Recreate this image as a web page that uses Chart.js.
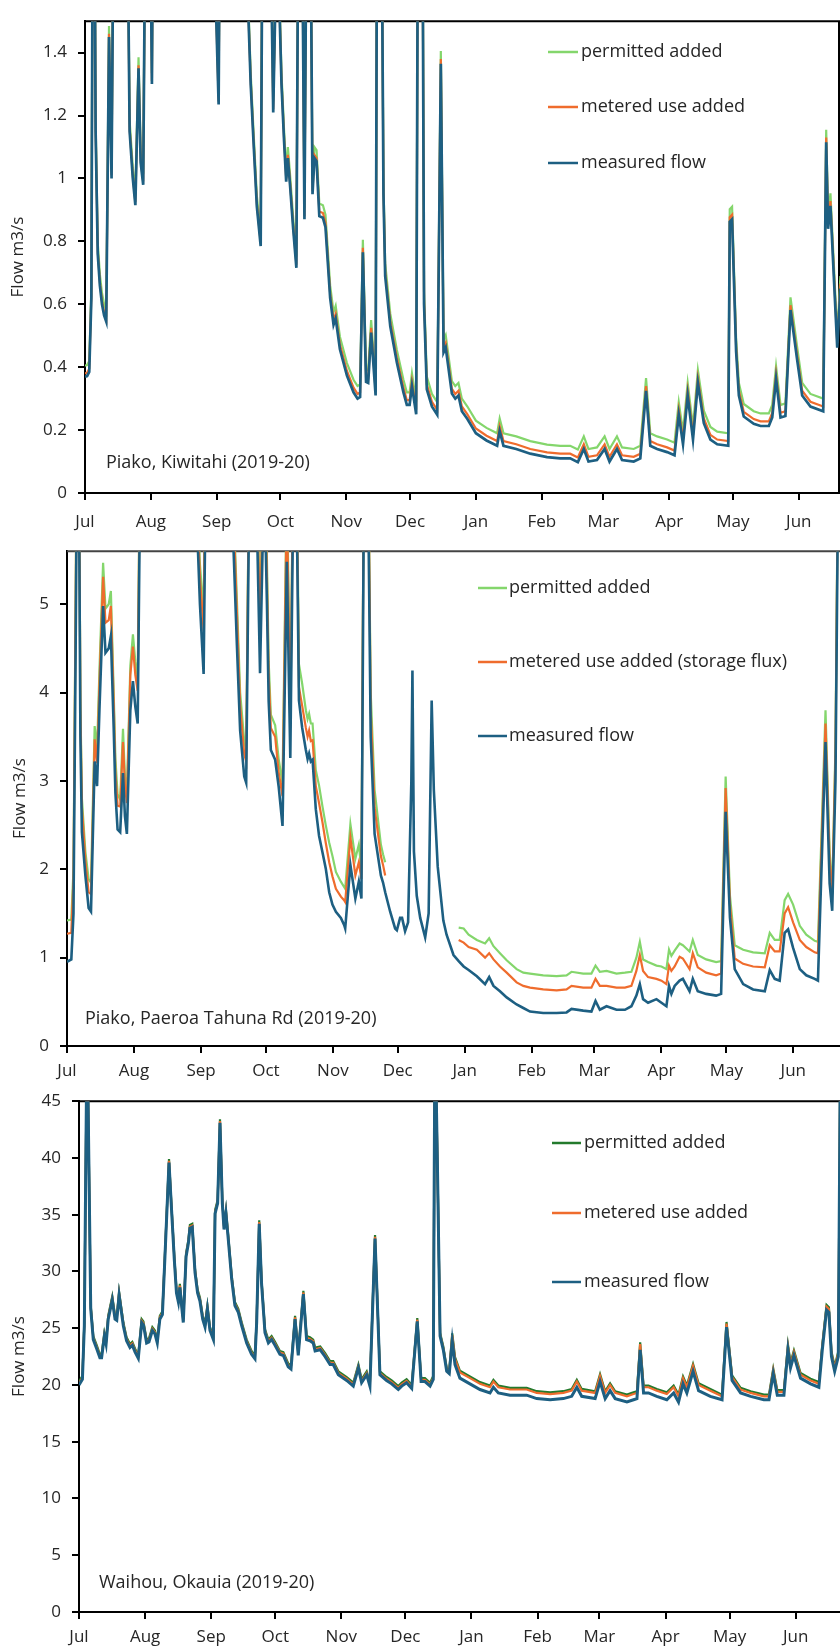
<!DOCTYPE html>
<html lang="en">
  <head>
    <meta charset="UTF-8" />
    <script src="https://cdn.jsdelivr.net/npm/chart.js@4.4.0/dist/chart.umd.min.js"></script>
    <title>Flow 2019-20</title>
    <style>
      body { margin: 0; background: #fff; width: 840px; height: 1647px; position: relative; overflow: hidden; }
      canvas { position: absolute; left: 0; }
    </style>
  </head>
  <body>
    <canvas id="c1" width="840" height="540" style="top:0"></canvas>
    <canvas id="c2" width="840" height="560" style="top:530px"></canvas>
    <canvas id="c3" width="840" height="567" style="top:1080px"></canvas>

    <script>
      // day 0 = 1 Jul 2019
      var monthStarts = [0, 31, 62, 92, 123, 153, 184, 215, 244, 275, 305, 336];
      var monthLabels = ["Jul", "Aug", "Sep", "Oct", "Nov", "Dec", "Jan", "Feb", "Mar", "Apr", "May", "Jun"];
      var seriesNames = ["measured flow", "metered use added", "permitted added"];

      // Piako, Kiwitahi
      var days1 = [0,1,2,3,4,5,6,7,8,9,
        10,11.3,12.5,13.8,16,19.5,21,22.5,23.7,25.2,
        26.2,27.4,29,30.5,31.5,32.3,40,50,60,61,
        62.9,63.6,70,76.5,78,79.3,80.9,82.7,83.8,86.5,
        88.6,90.3,91.3,92.5,93.7,94.7,95.5,96.5,98,99.5,
        100.5,101.8,103.3,104.8,106,107.1,108,109,110.3,112,
        113.2,115.4,117,118,120,123.3,126.4,128.3,129.5,130.8,
        132.3,133.3,134.7,136.8,137.5,139.5,140.5,141.3,143.7,146.8,
        149.9,151.5,152.8,153.9,155.9,157,158.5,159.6,160.9,163.3,
        165.8,167.5,168.8,169.8,172.7,174.3,175.8,177.4,180,184,
        189,194,195.2,197,203,209.6,217.5,223.7,228.4,232,
        234.8,237,241,244.6,246.9,250.4,252.8,258.3,261.4,264.1,
        266.1,269.3,274,277.5,279.5,281.5,283.7,286.2,288.5,291.3,
        294.4,297.6,302.8,303.5,304.6,306.5,307.8,310.1,314.8,318,
        321.9,323.5,325.3,327.4,329.7,332.1,335.2,337.6,341.5,347.5,
        348.9,349.8,350.9,354.1,355.6,357];
      var measured1 = [0.37,0.372,0.385,0.62,2.6,1.15,0.76,0.66,0.6,0.565,
        0.545,1.45,1.0,2.2,3.5,2.2,1.15,1.0,0.915,1.35,
        1.05,0.98,2.4,2.0,1.3,2.2,4.0,3.5,2.4,1.7,
        1.235,2.0,3.5,1.6,1.3,1.12,0.91,0.785,2.2,2.2,
        1.21,1.8,1.6,1.3,1.12,0.99,1.065,0.98,0.84,0.716,
        2.0,2.2,0.87,2.4,2.0,0.95,1.065,1.055,0.88,0.875,
        0.845,0.62,0.535,0.555,0.457,0.373,0.32,0.30,0.305,0.765,
        0.353,0.35,0.51,0.31,2.0,2.0,0.95,0.69,0.53,0.415,
        0.32,0.28,0.28,0.34,0.25,2.5,2.5,0.6,0.33,0.275,
        0.249,1.365,0.447,0.462,0.316,0.30,0.31,0.26,0.235,0.19,
        0.167,0.15,0.197,0.15,0.14,0.125,0.114,0.11,0.11,0.098,
        0.14,0.10,0.105,0.14,0.10,0.14,0.105,0.10,0.11,0.325,
        0.15,0.14,0.13,0.12,0.249,0.155,0.31,0.17,0.35,0.222,
        0.17,0.155,0.15,0.862,0.87,0.45,0.31,0.243,0.22,0.213,
        0.213,0.24,0.363,0.24,0.245,0.582,0.425,0.31,0.275,0.26,
        1.115,0.84,0.913,0.462,0.65,0.8];
      var metered1 = [0.38,0.382,0.395,0.63,2.61,1.16,0.77,0.67,0.61,0.575,
        0.555,1.46,1.01,2.21,3.51,2.21,1.16,1.01,0.925,1.36,
        1.06,0.99,2.41,2.01,1.31,2.21,4.01,3.51,2.41,1.71,
        1.245,2.01,3.51,1.61,1.31,1.13,0.92,0.795,2.21,2.21,
        1.22,1.81,1.61,1.31,1.13,1.0,1.075,0.99,0.85,0.726,
        2.01,2.21,0.88,2.41,2.01,0.96,1.075,1.065,0.895,0.89,
        0.86,0.635,0.55,0.57,0.472,0.388,0.335,0.315,0.32,0.78,
        0.368,0.365,0.525,0.325,2.01,2.01,0.965,0.705,0.545,0.43,
        0.335,0.295,0.295,0.355,0.265,2.51,2.51,0.615,0.345,0.29,
        0.264,1.38,0.462,0.477,0.331,0.315,0.325,0.275,0.25,0.205,
        0.182,0.165,0.212,0.165,0.155,0.14,0.129,0.125,0.125,0.113,
        0.155,0.115,0.12,0.155,0.115,0.155,0.12,0.115,0.125,0.34,
        0.165,0.155,0.145,0.135,0.264,0.17,0.325,0.185,0.365,0.237,
        0.185,0.17,0.165,0.877,0.885,0.465,0.325,0.258,0.235,0.228,
        0.228,0.255,0.378,0.255,0.26,0.597,0.44,0.325,0.29,0.275,
        1.13,0.855,0.928,0.477,0.665,0.815];
      var permitted1 = [0.405,0.407,0.42,0.655,2.635,1.185,0.795,0.695,0.635,0.6,
        0.58,1.485,1.035,2.235,3.535,2.235,1.185,1.035,0.95,1.385,
        1.085,1.015,2.435,2.035,1.335,2.235,4.035,3.535,2.435,1.735,
        1.27,2.035,3.535,1.635,1.335,1.155,0.945,0.82,2.235,2.235,
        1.245,1.835,1.635,1.335,1.155,1.025,1.1,1.015,0.875,0.751,
        2.035,2.235,0.905,2.435,2.035,0.985,1.1,1.09,0.92,0.915,
        0.885,0.66,0.575,0.595,0.497,0.413,0.36,0.34,0.345,0.805,
        0.393,0.39,0.55,0.35,2.04,2.04,0.99,0.73,0.57,0.455,
        0.36,0.32,0.32,0.38,0.29,2.54,2.54,0.64,0.37,0.315,
        0.289,1.405,0.487,0.502,0.356,0.34,0.35,0.3,0.275,0.23,
        0.207,0.19,0.237,0.19,0.18,0.165,0.154,0.15,0.15,0.138,
        0.18,0.14,0.145,0.18,0.14,0.18,0.145,0.14,0.15,0.365,
        0.19,0.18,0.17,0.16,0.289,0.195,0.35,0.21,0.39,0.262,
        0.21,0.195,0.19,0.902,0.91,0.49,0.35,0.283,0.26,0.253,
        0.253,0.28,0.403,0.28,0.285,0.622,0.465,0.35,0.315,0.3,
        1.155,0.88,0.953,0.502,0.69,0.84];

      // Piako, Paeroa Tahuna Rd
      var days2 = [0,2,3,4,4.6,5.5,6.2,6.9,8.5,10,
        11.1,12.8,13.9,15,16.7,17.8,19.3,20.3,21.6,22.4,
        23.4,24.6,25.9,26.8,27.7,29.3,30.5,31.6,32.7,33.9,
        40,50,60,61.5,63.2,64.2,70,76.5,78.6,80.1,
        82,82.9,84.4,87.8,89.3,91.2,92.5,93.3,94.3,96.3,
        97.9,99.7,101.7,103.3,104.8,106.3,107.3,108.8,110.5,111.3,
        112,112.8,113.6,115.1,116.6,118.2,119.7,121.3,122.8,124.4,
        126.7,128.2,128.7,131.1,133.4,135,136.2,137.4,139.2,140.5,
        142.3,145.2,146.2,147.2,149.5,151.8,152.6,154.1,155,156.4,
        157.8,159.3,159.8,160.5,161.8,163.4,165.7,167.3,168.7,169.7,
        171.5,174.1,175.6,178.8,181.2,183.5,185.8,189.6,193.4,195.3,
        197.3,200.3,203.4,208,211.1,214.2,220.3,226.5,231.1,233.4,
        238.8,242.6,244.5,246.5,249.6,254.2,258.1,261.1,263.4,265,
        266.5,268.8,272.7,275,277.3,278.5,279.6,281.1,283.4,284.9,
        288,289.5,291.8,295.7,300.3,302.6,304.7,306.7,308.9,312.8,
        317.4,322.8,325.1,327.4,329.7,332,333.6,335.9,339,342,
        345.9,347.4,350.9,352.8,354,355.5,356.6,358];
      var measured2 = [0.953,0.98,1.5,4.5,6.5,6.5,3.5,2.42,1.93,1.56,
        1.52,3.22,2.94,3.8,4.98,4.45,4.5,4.64,3.6,2.86,
        2.45,2.42,3.09,2.6,2.4,3.8,4.13,3.84,3.65,6.5,
        8,7,6,5,4.21,6.5,8,6,4.54,3.57,
        3.05,2.98,6.5,6,4.22,6.5,5,3.9,3.35,3.24,
        2.94,2.49,5.48,3.26,6.5,6,3.91,3.6,3.35,3.25,
        3.31,3.22,3.24,2.68,2.38,2.19,2.01,1.74,1.6,1.52,
        1.45,1.37,1.33,2.05,1.67,1.86,1.67,6.5,6.5,3.5,
        2.4,1.93,1.85,1.74,1.52,1.33,1.31,1.45,1.45,1.3,
        1.4,3.0,4.25,2.2,1.7,1.45,1.23,1.5,3.91,2.9,
        2.03,1.42,1.26,1.03,0.96,0.9,0.86,0.79,0.7,0.78,
        0.68,0.62,0.55,0.47,0.43,0.39,0.373,0.373,0.38,0.42,
        0.4,0.39,0.51,0.41,0.45,0.41,0.41,0.45,0.57,0.7,
        0.53,0.49,0.53,0.49,0.45,0.68,0.59,0.68,0.74,0.76,
        0.62,0.76,0.62,0.59,0.57,0.59,2.65,1.45,0.87,0.7,
        0.64,0.62,0.86,0.76,0.74,1.28,1.32,1.11,0.87,0.8,
        0.76,0.74,3.44,1.84,1.53,3,6,7];
      var metered2 = [1.27,1.28,1.9,5.0,7,7,3.8,2.7,2.1,1.74,
        1.72,3.47,3.2,4.1,5.31,4.79,4.82,4.98,3.9,3.1,
        2.72,2.71,3.44,2.95,2.75,4.2,4.52,4.2,4.02,7,
        8.5,7.5,6.3,5.3,4.7,7,8.5,6.4,4.9,3.85,
        3.3,3.22,7,6.4,4.7,7,5.3,4.2,3.6,3.5,
        3.1,2.83,6.2,3.6,7,6.3,4.06,3.85,3.6,3.5,
        3.57,3.45,3.46,2.94,2.75,2.53,2.3,2.08,1.92,1.78,
        1.69,1.65,1.63,2.36,1.93,2.08,1.89,7,7,3.8,
        2.7,2.15,2.05,1.93,null,null,null,null,null,null,
        null,null,null,null,null,null,null,null,null,null,
        null,null,null,null,1.2,1.17,1.12,1.09,1.0,1.05,
        0.98,0.9,0.83,0.72,0.68,0.66,0.64,0.63,0.64,0.68,
        0.66,0.66,0.76,0.68,0.68,0.66,0.66,0.68,0.85,1.03,
        0.85,0.78,0.76,0.74,0.7,0.91,0.85,0.9,1.01,0.99,
        0.87,1.05,0.89,0.83,0.8,0.82,2.92,1.6,0.99,0.93,
        0.9,0.89,1.14,1.07,1.07,1.5,1.57,1.4,1.2,1.12,
        1.06,1.05,3.65,2.1,1.72,3.3,6.3,7.3];
      var permitted2 = [1.42,1.43,2.0,5.1,7,7,3.9,2.8,2.2,1.89,
        1.85,3.62,3.35,4.25,5.47,4.95,5.0,5.15,4.0,3.25,
        2.85,2.79,3.59,3.05,2.85,4.3,4.66,4.35,4.15,7,
        8.5,7.5,6.4,5.45,4.9,7,8.5,6.5,5.05,4.0,
        3.45,3.35,7,6.5,4.9,7,5.5,4.35,3.75,3.63,
        3.25,2.97,6.4,3.8,7,6.5,4.32,4.1,3.8,3.7,
        3.76,3.65,3.65,3.12,2.95,2.71,2.5,2.3,2.15,1.97,
        1.86,1.8,1.78,2.51,2.12,2.28,2.0,7,7,4.0,
        2.9,2.28,2.17,2.08,null,null,null,null,null,null,
        null,null,null,null,null,null,null,null,null,null,
        null,null,null,null,1.34,1.33,1.26,1.2,1.16,1.22,
        1.13,1.05,0.97,0.87,0.83,0.82,0.8,0.79,0.8,0.84,
        0.82,0.82,0.91,0.84,0.85,0.82,0.83,0.84,1.0,1.18,
        0.98,0.95,0.91,0.9,0.87,1.09,1.02,1.08,1.16,1.14,
        1.07,1.2,1.03,0.98,0.95,0.96,3.05,1.7,1.14,1.09,
        1.06,1.05,1.28,1.2,1.2,1.65,1.72,1.6,1.36,1.26,
        1.19,1.18,3.8,2.2,1.74,3.4,6.4,7.4];

      // Waihou, Okauia
      var days3 = [0,1.6,2.5,3.8,4.6,5.5,6.7,8.3,9.8,10.6,
        11.9,12.7,13.7,15.6,16.9,17.7,18.8,20.8,22.3,23.9,
        25,26.3,27.8,29.4,30.2,31.7,32.8,34.4,35.6,36.7,
        37.9,39.1,40.3,42.2,43.4,44.7,45.7,46.6,47.3,48.1,
        48.9,50.2,51.3,52,53.1,54.4,55.6,56.7,58,59.1,
        60.2,61.4,63,63.8,65,66.1,67.2,68,68.9,70,
        71.6,73.1,74.7,76.3,78.6,80.9,82.5,83.3,84.5,85.6,
        87.2,88.8,90.3,91.9,94.2,95.8,98.1,99.4,101.3,102.8,
        105.2,106.7,108.3,109.8,110.7,113.1,115.4,117.7,119.2,121.6,
        125.5,128.6,131,132.5,134.9,136.4,138.8,141.1,144.2,146.6,
        149.7,151.3,153.6,156,158.6,160.4,162.2,164.6,166.1,166.9,
        168,169.3,170.8,172.4,173.6,175,176.3,178.6,183.3,188,
        192.7,194.3,196.6,202.1,209.9,214.6,220.9,227.1,231,233.4,
        235.7,242,244.3,246.7,249,251.4,256.9,260,261.6,263.1,
        264.7,267,270.9,275.6,278.8,281.1,283.2,285,287.9,290.5,
        296,301.5,303.6,306.2,310.2,314.9,321.1,323.5,325.5,327.4,
        330.5,332.4,333.6,335.2,338.3,343,346.9,348.5,350.5,351.6,
        352.8,354.3,356,357];
      var measured3 = [20.0,20.5,25.2,52,40,26.7,24.0,23.2,22.4,22.4,
        24.3,23.6,25.8,27.5,25.8,25.7,27.9,25.2,23.9,23.3,
        23.5,22.9,22.35,25.5,25.3,23.7,23.8,24.8,24.5,23.7,
        25.8,26.2,31.3,39.6,35.4,31.0,28.1,27.3,28.6,27.0,
        25.5,31.3,32.5,33.8,33.9,29.9,28.1,27.4,25.8,25.1,
        26.7,24.8,24.0,35.1,36.0,43.1,36.0,33.7,35.1,32.8,
        29.3,27.0,26.4,25.2,23.7,22.7,22.3,25.5,34.2,28.9,
        24.6,23.7,24.0,23.5,22.7,22.6,21.6,21.4,25.8,22.6,
        28.0,24.0,23.9,23.7,23.0,23.1,22.5,21.8,21.8,20.9,
        20.4,19.9,21.5,20.2,20.9,19.9,32.9,20.9,20.4,20.1,
        19.6,19.9,20.2,19.7,25.6,20.3,20.3,19.9,20.5,52,
        40,24.3,23.1,21.2,21.0,23.9,21.8,20.6,20.1,19.6,
        19.3,19.8,19.3,19.1,19.1,18.8,18.7,18.8,19.0,19.8,
        19.0,18.8,20.3,18.8,19.5,18.8,18.5,18.7,18.8,23.1,
        19.3,19.3,19.0,18.7,19.3,18.5,20.1,19.3,21.2,19.5,
        19.0,18.7,25.1,20.4,19.3,19.0,18.7,18.7,21.0,19.1,
        19.1,23.1,21.5,22.6,20.6,20.1,19.8,23.1,26.6,26.4,
        22.5,21.2,22.5,50];
      var metered3 = [20.15,20.65,25.35,52.15,40.15,26.85,24.15,23.35,22.55,22.55,
        24.45,23.75,25.95,27.65,25.95,25.85,28.05,25.35,24.05,23.45,
        23.65,23.05,22.5,25.65,25.45,23.85,23.95,24.95,24.65,23.85,
        25.95,26.35,31.45,39.75,35.55,31.15,28.25,27.45,28.75,27.15,
        25.65,31.45,32.65,33.95,34.05,30.05,28.25,27.55,25.95,25.25,
        26.85,24.95,24.15,35.25,36.15,43.25,36.15,33.85,35.25,32.95,
        29.45,27.15,26.55,25.35,23.85,22.85,22.45,25.65,34.35,29.05,
        24.75,23.85,24.15,23.65,22.85,22.75,21.75,21.55,25.95,22.75,
        28.15,24.15,24.05,23.85,23.15,23.25,22.65,21.95,21.95,21.05,
        20.55,20.05,21.65,20.35,21.05,20.05,33.05,21.05,20.55,20.25,
        19.75,20.05,20.35,19.85,25.75,20.45,20.45,20.05,20.65,52.15,
        40.15,24.45,23.25,21.35,21.15,24.4,22.3,21.1,20.6,20.1,
        19.8,20.3,19.8,19.6,19.6,19.3,19.2,19.3,19.5,20.3,
        19.5,19.3,20.8,19.3,20.0,19.3,19.0,19.2,19.3,23.6,
        19.8,19.8,19.5,19.2,19.8,19.0,20.6,19.8,21.7,20.0,
        19.5,19.0,25.4,20.7,19.6,19.3,19.0,19.0,21.3,19.4,
        19.4,23.4,21.8,22.9,20.9,20.4,20.1,23.4,26.9,26.7,
        22.8,21.5,22.8,50.3];
      var permitted3 = [20.3,20.8,25.5,52.3,40.3,27.0,24.3,23.5,22.7,22.7,
        24.6,23.9,26.1,27.8,26.1,26.0,28.2,25.5,24.2,23.6,
        23.8,23.2,22.65,25.8,25.6,24.0,24.1,25.1,24.8,24.0,
        26.1,26.5,31.6,39.9,35.7,31.3,28.4,27.6,28.9,27.3,
        25.8,31.6,32.8,34.1,34.2,30.2,28.4,27.7,26.1,25.4,
        27.0,25.1,24.3,35.4,36.3,43.4,36.3,34.0,35.4,33.1,
        29.6,27.3,26.7,25.5,24.0,23.0,22.6,25.8,34.5,29.2,
        24.9,24.0,24.3,23.8,23.0,22.9,21.9,21.7,26.1,22.9,
        28.3,24.3,24.2,24.0,23.3,23.4,22.8,22.1,22.1,21.2,
        20.7,20.2,21.8,20.5,21.2,20.2,33.2,21.2,20.7,20.4,
        19.9,20.2,20.5,20.0,25.9,20.6,20.6,20.2,20.8,52.3,
        40.3,24.6,23.4,21.5,21.3,24.55,22.45,21.25,20.75,20.25,
        19.95,20.45,19.95,19.75,19.75,19.45,19.35,19.45,19.65,20.45,
        19.65,19.45,20.95,19.45,20.15,19.45,19.15,19.35,19.45,23.75,
        19.95,19.95,19.65,19.35,19.95,19.15,20.75,19.95,21.85,20.15,
        19.65,19.15,25.55,20.85,19.75,19.45,19.15,19.15,21.45,19.55,
        19.55,23.55,21.95,23.05,21.05,20.55,20.25,23.55,27.05,26.85,
        22.95,21.65,22.95,50.45];

      var yTicks1 = [0, 0.2, 0.4, 0.6, 0.8, 1, 1.2, 1.4];
      var yTicks2 = [0, 1, 2, 3, 4, 5];
      var yTicks3 = [0, 5, 10, 15, 20, 25, 30, 35, 40, 45];

      Chart.defaults.font.family = "'Open Sans', sans-serif";
      Chart.defaults.color = "#262626";

      // frame, legend and site name drawn on top of the plot
      var overlay = {
        id: "overlay",
        beforeDatasetsDraw: function (chart, args, o) {
          var a = chart.chartArea, ctx = chart.ctx;
          ctx.save();
          ctx.strokeStyle = o.frame;
          ctx.lineWidth = 2;
          ctx.beginPath();
          ctx.moveTo(a.left, a.top);
          ctx.lineTo(a.right, a.top);
          if (o.rightEdge) {
            ctx.moveTo(a.right - 1, a.top);
            ctx.lineTo(a.right - 1, a.bottom);
          }
          ctx.stroke();
          ctx.restore();
        },
        afterDraw: function (chart, args, o) {
          var ctx = chart.ctx;
          var ds = chart.data.datasets;
          ctx.save();
          ctx.font = "18px 'Open Sans'";
          ctx.fillStyle = "#262626";
          ctx.textBaseline = "middle";
          for (var i = 0; i < o.rows.length; i++) {
            var d = ds[ds.length - 1 - i];
            ctx.strokeStyle = d.borderColor;
            ctx.lineWidth = 2.5;
            ctx.beginPath();
            ctx.moveTo(o.lineX[0], o.rows[i]);
            ctx.lineTo(o.lineX[1], o.rows[i]);
            ctx.stroke();
            ctx.fillText(o.names[i], o.textX, o.rows[i]);
          }
          ctx.fillText(o.note, o.noteX, o.noteY);
          ctx.restore();
        },
      };

      function pts(days, vals) {
        return days.map(function (d, i) { return { x: d, y: vals[i] }; });
      }

      function makeChart(id, cfg) {
        var colors = ["#1d5f82", "#ef6c2d", cfg.green];
        var widths = [cfg.blueWidth, 2.2, 2.2];
        var series = [cfg.measured, cfg.metered, cfg.permitted];
        var datasets = series.map(function (s, i) {
          return {
            label: seriesNames[i],
            data: pts(cfg.days, s),
            borderColor: colors[i],
            borderWidth: widths[i],
            pointRadius: 0,
            tension: 0,
            spanGaps: false,
            order: i + 1,
          };
        });
        return new Chart(document.getElementById(id), {
          type: "line",
          data: { datasets: datasets },
          plugins: [overlay],
          options: {
            responsive: false,
            animation: false,
            events: [],
            layout: { padding: { top: cfg.top, left: 0, right: 0, bottom: 0 } },
            plugins: {
              legend: { display: false },
              tooltip: { enabled: false },
              overlay: cfg.overlay,
            },
            scales: {
              x: {
                type: "linear",
                min: 0,
                max: cfg.xMax,
                afterBuildTicks: function (s) {
                  s.ticks = monthStarts.map(function (v) { return { value: v }; });
                },
                afterFit: function (s) { s.height = cfg.xHeight; },
                ticks: {
                  autoSkip: false,
                  maxRotation: 0,
                  padding: cfg.xPad,
                  font: { size: 17 },
                  callback: function (v) { return monthLabels[monthStarts.indexOf(v)]; },
                },
                grid: { drawOnChartArea: false, tickLength: 7, color: "#000", lineWidth: 2 },
                border: { color: "#000", width: 2 },
              },
              y: {
                min: 0,
                max: cfg.yMax,
                afterBuildTicks: function (s) {
                  s.ticks = cfg.yTicks.map(function (v) { return { value: v }; });
                },
                afterFit: function (s) { s.width = cfg.left; },
                ticks: {
                  padding: 11,
                  font: { size: 17 },
                  callback: function (v) { return String(v); },
                },
                title: {
                  display: true,
                  text: "Flow m3/s",
                  font: { size: 17 },
                  padding: { top: cfg.titlePad, bottom: 0 },
                },
                grid: { drawOnChartArea: false, tickLength: 7, color: "#000", lineWidth: 2 },
                border: { color: "#000", width: 2 },
              },
            },
          },
        });
      }

      makeChart("c1", {
        days: days1, measured: measured1, metered: metered1, permitted: permitted1,
        green: "#84d66c", blueWidth: 2.7,
        top: 12, left: 85, xHeight: 47, xPad: 12, xMax: 355.4, yMax: 1.5, yTicks: yTicks1, titlePad: 8,
        overlay: {
          frame: "#000", rightEdge: true,
          rows: [52, 107, 163], lineX: [548, 578], textX: 581,
          names: ["permitted added", "metered use added", "measured flow"],
          note: "Piako, Kiwitahi (2019-20)", noteX: 106, noteY: 463,
        },
      });

      makeChart("c2", {
        days: days2, measured: measured2, metered: metered2, permitted: permitted2,
        green: "#84d66c", blueWidth: 2.6,
        top: 16, left: 67, xHeight: 44, xPad: 8, xMax: 357.6, yMax: 5.6, yTicks: yTicks2, titlePad: 10,
        overlay: {
          frame: "#444", rightEdge: false,
          rows: [58, 132, 206], lineX: [478, 507], textX: 509,
          names: ["permitted added", "metered use added (storage flux)", "measured flow"],
          note: "Piako, Paeroa Tahuna Rd (2019-20)", noteX: 85, noteY: 489,
        },
      });

      makeChart("c3", {
        days: days3, measured: measured3, metered: metered3, permitted: permitted3,
        green: "#237a2c", blueWidth: 3,
        top: 17, left: 79, xHeight: 35, xPad: 8, xMax: 356.8, yMax: 45, yTicks: yTicks3, titlePad: 9,
        overlay: {
          frame: "#000", rightEdge: false,
          rows: [63, 133, 202], lineX: [552, 581], textX: 584,
          names: ["permitted added", "metered use added", "measured flow"],
          note: "Waihou, Okauia (2019-20)", noteX: 99, noteY: 503,
        },
      });
    </script>
  </body>
</html>
